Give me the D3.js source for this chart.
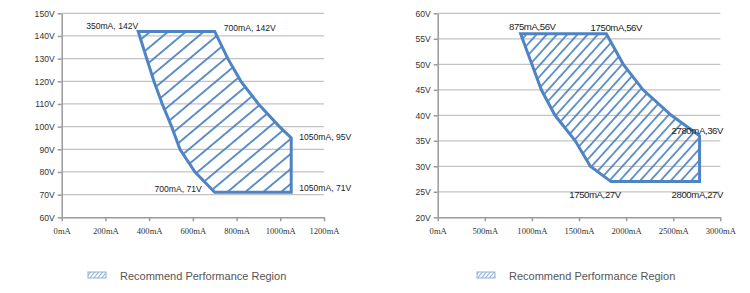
<!DOCTYPE html>
<html>
<head>
	<meta charset="utf-8" />
	<title>Recommend Performance Region</title>
	<script src="https://d3js.org/d3.v7.min.js"></script>
</head>
<style>
	body { margin: 0; background: #fff; }
	.grid line { stroke: #c3c3c3; stroke-width: 1.3px; }
	.axis path, .axis line { stroke: #9a9a9a; stroke-width: 1.5px; }
	.ytick text { font-family: 'Liberation Sans', sans-serif; font-size: 8.6px; fill: #333; }
	.xtick text { font-family: 'Liberation Serif', serif; font-size: 8.6px; fill: #333; }
	.ptlabel { font-family: 'Liberation Sans', sans-serif; fill: #222; }
	.legend text { font-family: 'Liberation Sans', sans-serif; font-size: 11px; fill: #555; }
</style>
<body>
<script>
	// left chart: 350mA..1050mA, 71V..142V region (outline)
	var leftI = [350, 700, 760, 820, 900, 996, 1050, 1050, 700, 610, 541, 503, 460, 422, 389, 350];
	var leftV = [142, 142, 130, 120, 110, 100, 95, 71, 71, 80, 90, 100, 110, 120, 130, 142];
	var leftLabels = ["350mA, 142V", "700mA, 142V", "1050mA, 95V", "700mA, 71V", "1050mA, 71V"];
	var leftLabelI = [350, 700, 1050, 700, 1050];
	var leftLabelV = [142, 142, 95, 71, 71];

	// right chart: 875mA..2800mA, 27V..56V region
	var rightI = [880, 1790, 1970, 2180, 2480, 2780, 2780, 1840, 1620, 1460, 1245, 1100, 1000, 880];
	var rightV = [56, 56, 50, 45, 40, 36, 27, 27, 30, 35, 40, 45, 50, 56];
	var rightLabels = ["875mA,56V", "1750mA,56V", "2780mA,36V", "1750mA,27V", "2800mA,27V"];
	var rightLabelI = [880, 1790, 2780, 1840, 2780];
	var rightLabelV = [56, 56, 36, 27, 27];

	var legendText = "Recommend Performance Region";
	var blue = "#4f84c4";

	var svg = d3.select("body").append("svg")
		.attr("width", 750).attr("height", 293)
		.style("display", "block");
	svg.append("rect").attr("width", 750).attr("height", 293).attr("fill", "#fff");

	var defs = svg.append("defs");
	function hatch(id, gap, angle, width, color) {
		var p = defs.append("pattern")
			.attr("id", id)
			.attr("patternUnits", "userSpaceOnUse")
			.attr("width", 10).attr("height", gap)
			.attr("patternTransform", "rotate(" + (-angle) + ")");
		p.append("line")
			.attr("x1", 0).attr("x2", 10)
			.attr("y1", gap / 2).attr("y2", gap / 2)
			.attr("stroke", color).attr("stroke-width", width);
	}
	hatch("hatchL", 11.5, 40, 1.8, blue);
	hatch("hatchR", 7.6, 48, 1.7, blue);
	hatch("hatchLeg", 3, 50, 1, "#8fb0da");

	function drawChart(opt) {
		var x = d3.scaleLinear().domain(opt.xDomain).range([opt.x0, opt.x1]);
		var y = d3.scaleLinear().domain(opt.yDomain).range([217.3, 13.3]);
		var g = svg.append("g");

		// horizontal gridlines
		g.append("g").attr("class", "grid")
			.selectAll("line")
			.data(y.ticks(opt.yCount).filter(function(d) { return d > opt.yDomain[0]; }))
			.enter().append("line")
			.attr("x1", opt.x0).attr("x2", opt.x1)
			.attr("y1", function(d) { return y(d); })
			.attr("y2", function(d) { return y(d); });

		var ya = g.append("g").attr("class", "axis ytick")
			.attr("transform", "translate(" + opt.x0 + ",0)")
			.call(d3.axisLeft(y).ticks(opt.yCount).tickSize(4).tickSizeOuter(0)
				.tickFormat(function(d) { return d + "V"; }));
		ya.selectAll("text").attr("x", -7);

		var xa = g.append("g").attr("class", "axis xtick")
			.attr("transform", "translate(0,217.3)")
			.call(d3.axisBottom(x).ticks(opt.xCount).tickSize(4).tickSizeOuter(0)
				.tickFormat(function(d) { return d + "mA"; }));
		xa.selectAll("text").attr("y", 11);

		// region
		var pts = opt.I.map(function(d, i) { return [x(d), y(opt.V[i])]; });
		g.append("path")
			.attr("d", d3.line()(pts) + "Z")
			.attr("fill", "url(#" + opt.pattern + ")")
			.attr("stroke", blue)
			.attr("stroke-width", 3)
			.attr("stroke-linejoin", "miter");

		// point labels
		g.selectAll(".ptlabel")
			.data(opt.labels)
			.enter().append("text")
			.attr("class", "ptlabel")
			.style("font-size", opt.labelSize + "px")
			.style("letter-spacing", opt.labelSpacing + "px")
			.attr("text-anchor", function(d, i) { return opt.anchor[i]; })
			.attr("x", function(d, i) { return x(opt.labelI[i]) + opt.dx[i]; })
			.attr("y", function(d, i) { return y(opt.labelV[i]) + opt.dy[i]; })
			.text(function(d) { return d; });

		// legend
		var lg = g.append("g").attr("class", "legend");
		lg.append("rect")
			.attr("x", opt.legX).attr("y", 272)
			.attr("width", 18).attr("height", 6)
			.attr("fill", "url(#hatchLeg)")
			.attr("stroke", "#8fb0da").attr("stroke-width", 1);
		lg.append("text")
			.attr("x", opt.legX + 32).attr("y", 279.5)
			.text(legendText);
	}

	drawChart({
		x0: 61.7, x1: 324, xDomain: [0, 1200], xCount: 6,
		yDomain: [60, 150], yCount: 9,
		I: leftI, V: leftV, pattern: "hatchL",
		labels: leftLabels, labelI: leftLabelI, labelV: leftLabelV,
		anchor: ["end", "start", "start", "end", "start"],
		dx: [0, 9, 8, -13, 8], dy: [-2, 0, 2, 0, -1],
		labelSize: 8.6, labelSpacing: 0,
		legX: 88
	});

	drawChart({
		x0: 437.7, x1: 720.3, xDomain: [0, 3000], xCount: 6,
		yDomain: [20, 60], yCount: 8,
		I: rightI, V: rightV, pattern: "hatchR",
		labels: rightLabels, labelI: rightLabelI, labelV: rightLabelV,
		anchor: ["end", "middle", "start", "middle", "start"],
		dx: [35, 10, -28, -16, -28], dy: [-4, -3, -2, 16, 16],
		labelSize: 9.6, labelSpacing: -0.4,
		legX: 477
	});
</script>
</body>
</html>
